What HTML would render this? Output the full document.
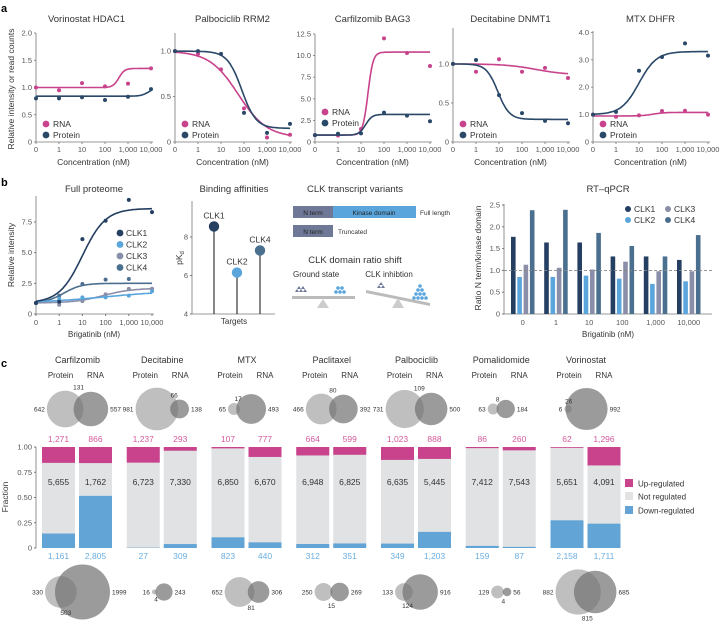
<!DOCTYPE html>
<html><head><meta charset="utf-8"><style>
html,body{margin:0;padding:0;background:#fff}
svg{display:block;font-family:"Liberation Sans",sans-serif}
</style></head><body>
<svg id="fig" width="722" height="625" viewBox="0 0 722 625"></svg>
<script>
// ---------- DATA ----------
const doseLabels = ["0","1","10","100","1,000","10,000"];
const aTitles = ["Vorinostat HDAC1","Palbociclib RRM2","Carfilzomib BAG3","Decitabine DNMT1","MTX DHFR"];
const aRna = [[1.0,0.95,1.08,1.02,1.07,1.35],[1.0,0.97,0.8,0.37,0.05,0.08],[0.8,0.75,1.5,12.0,10.3,8.8],[1.0,0.9,1.06,0.9,0.95,0.82],[1.0,0.92,0.97,1.13,1.14,1.0]];
const aProt = [[0.8,0.8,0.82,0.77,0.83,0.97],[1.0,1.0,0.97,0.32,0.1,0.2],[0.8,0.95,1.0,3.4,3.05,2.4],[1.0,1.05,0.6,0.37,0.27,0.24],[1.0,1.1,2.6,3.1,3.6,3.15]];
const aRnaFit = [[1.0,1.35,3.6,8],[1.0,0.05,2.75,1.6],[0.8,10.4,2.3,9],[1.0,0.86,3.6,1.5],[0.95,1.08,2.6,4]];
const aProtFit = [[0.84,1.0,4.9,6],[1.0,0.15,2.9,3.2],[0.8,3.2,2.2,7],[1.0,0.29,1.95,4],[1.0,3.3,2.0,2.6]];
const aYTicks = [[0,0.5,1.0,1.5,2.0],[0,0.5,1.0],[0,2.5,5.0,7.5,10.0,12.5],[0,0.5,1.0],[0,1.0,2.0,3.0,4.0]];
const aYTickLabels = [["0","0.5","1.0","1.5","2.0"],["0","0.5","1.0"],["0","2.5","5.0","7.5","10.0","12.5"],["0","0.5","1.0"],["0","1.0","2.0","3.0","4.0"]];
const aYMax = [2.0,1.2,12.5,1.46,4.05];
const clkNames = ["CLK1","CLK2","CLK3","CLK4"];
const fpPoints = [[0.9,1.0,6.1,7.6,9.3,8.3],[0.9,1.25,1.35,1.35,1.5,1.85],[0.9,0.75,1.05,1.6,2.05,2.05],[0.9,1.5,2.45,2.8,2.85,2.05]];
const fpFit = [[0.9,8.6,2.0,2.0],[0.9,1.9,3.0,0.7],[0.9,2.1,2.9,1.6],[0.9,2.5,1.2,2.6]];
const fpYTicks = [0,2.5,5.0,7.5];
const fpYTickLabels = ["0","2.5","5.0","7.5"];
const pkdTargets = ["CLK1","CLK2","CLK4"];
const pkdValues = [8.55,6.15,7.3];
const qpcr = [[1.77,1.64,1.64,1.32,1.32,1.24],[0.85,0.85,0.88,0.81,0.69,0.75],[1.13,1.06,1.02,1.2,0.98,0.98],[2.38,2.39,1.86,1.56,1.32,1.81]];
const qYTicks = [0,0.5,1.0,1.5,2.0,2.5];
const qYTickLabels = ["0","0.5","1.0","1.5","2.0","2.5"];
const drugs = ["Carfilzomib","Decitabine","MTX","Paclitaxel","Palbociclib","Pomalidomide","Vorinostat"];
const upCounts = [[1271,866],[1237,293],[107,777],[664,599],[1023,888],[86,260],[62,1296]];
const notCounts = [[5655,1762],[6723,7330],[6850,6670],[6948,6825],[6635,5445],[7412,7543],[5651,4091]];
const downCounts = [[1161,2805],[27,309],[823,440],[312,351],[349,1203],[159,87],[2158,1711]];
const vennUp = [[642,131,557],[981,66,138],[65,17,493],[466,80,392],[731,109,500],[63,8,184],[6,26,992]];
const vennDown = [[330,503,1999],[16,4,243],[652,81,306],[250,15,269],[133,124,916],[129,4,56],[882,815,685]];
const fracTicks = [0,0.25,0.5,0.75,1.0];
const fracTickLabels = ["0","0.25","0.50","0.75","1.00"];

// ---------- HELPERS ----------
const NS="http://www.w3.org/2000/svg";
const svg=document.getElementById('fig');
function el(tag,attrs,parent,txt){const e=document.createElementNS(NS,tag);for(const k in attrs)e.setAttribute(k,attrs[k]);if(txt!==undefined)e.textContent=txt;(parent||svg).appendChild(e);return e;}
function fmt(n){return n.toLocaleString('en-US');}
const PINK="#c8428c",NAVY="#2a4868",AX="#777",TX="#333";
const clkCol=["#243f61","#5aa5dc","#8a8ea8","#4a6f8f"];
function sig(f,i){return f[0]+(f[1]-f[0])/(1+Math.exp(-f[3]*(i-f[2])));}
function txt(x,y,s,size,anchor,fill,parent){return el('text',{x:x,y:y,'font-size':size,'text-anchor':anchor||'middle',fill:fill||TX},parent,s);}

let t;
t=txt(1,12,"a",11,'start','#000');t.setAttribute('font-weight','bold');
t=txt(1,186,"b",11,'start','#000');t.setAttribute('font-weight','bold');
t=txt(1,367,"c",11,'start','#000');t.setAttribute('font-weight','bold');

// ---------- PANEL A ----------
const aX0=[36,175,315,453,593];
const aY0=142;
for(let p=0;p<5;p++){
  const g=el('g',{});
  
  
  const x0=aX0[p], w=115, step=w/5;
  const yTopPix = [33,33,34,28,31][p];
  const sx=i=>x0+i*step;
  const sy=v=>aY0-(v/aYMax[p])*(aY0-yTopPix);
  el('line',{x1:x0,y1:aY0,x2:x0+w+2,y2:aY0,stroke:AX,'stroke-width':0.8},g);
  el('line',{x1:x0,y1:aY0,x2:x0,y2:yTopPix,stroke:AX,'stroke-width':0.8},g);
  aYTicks[p].forEach((v,k)=>{const y=sy(v);el('line',{x1:x0-2,y1:y,x2:x0,y2:y,stroke:AX,'stroke-width':0.8},g);txt(x0-4,y+2.5,aYTickLabels[p][k],7.5,'end','#555',g);});
  doseLabels.forEach((l,i)=>{el('line',{x1:sx(i),y1:aY0,x2:sx(i),y2:aY0+2,stroke:AX,'stroke-width':0.8},g);txt(sx(i),aY0+10,l,7.5,'middle','#555',g);});
  txt(x0+w/2,165,"Concentration (nM)",8.5,'middle',TX,g);
  const tt=txt(x0+w/2-(p===0?7:0),22,aTitles[p],9.5,'middle',TX,g);
  
  [[aRnaFit[p],aRna[p],PINK,'rna'],[aProtFit[p],aProt[p],NAVY,'protein']].forEach(([f,pts,c,n])=>{
    let d='';for(let k=0;k<=100;k++){const i=k*0.05;d+=(k?'L':'M')+sx(i).toFixed(1)+','+sy(sig(f,i)).toFixed(1);}
    const path=el('path',{d:d,fill:'none',stroke:c,'stroke-width':1.6},g);
    
    
    pts.forEach((v,i)=>{const cc=el('circle',{cx:sx(i),cy:sy(v),r:2,fill:c},g);
      
      });
  });
  const ly = p===2?112:124, lx=x0+10;
  el('circle',{cx:lx,cy:ly,r:3.4,fill:PINK},g);txt(lx+7,ly+3,"RNA",8.5,'start',TX,g);
  el('circle',{cx:lx,cy:ly+11,r:3.4,fill:NAVY},g);txt(lx+7,ly+14,"Protein",8.5,'start',TX,g);
}
t=el('text',{x:0,y:0,'font-size':8.5,'text-anchor':'middle',fill:TX,transform:'translate(14,89) rotate(-90)'},svg,"Relative intensity or read counts");


// ---------- PANEL B ----------
{
  const g=el('g',{});
  const x0=36,w=116,y0=314,step=w/5;const sx=i=>x0+i*step;const sy=v=>y0-v*12.27;
  el('line',{x1:x0,y1:y0,x2:x0+w+2,y2:y0,stroke:AX,'stroke-width':0.8},g);
  el('line',{x1:x0,y1:y0,x2:x0,y2:196,stroke:AX,'stroke-width':0.8},g);
  fpYTicks.forEach((v,k)=>{el('line',{x1:x0-2,y1:sy(v),x2:x0,y2:sy(v),stroke:AX},g);txt(x0-4,sy(v)+2.5,fpYTickLabels[k],7.5,'end','#555',g);});
  doseLabels.forEach((l,i)=>{el('line',{x1:sx(i),y1:y0,x2:sx(i),y2:y0+2,stroke:AX},g);txt(sx(i),y0+11,l,7.5,'middle','#555',g);});
  txt(x0+w/2,337,"Brigatinib (nM)",8,'middle',TX,g);
  txt(x0+w/2,192,"Full proteome",9.5,'middle',TX,g);
  el('text',{'font-size':8.5,'text-anchor':'middle',fill:TX,transform:'translate(14,255) rotate(-90)'},g,"Relative intensity");
  [3,2,1,0].forEach(s=>{
    let d='';for(let k=0;k<=100;k++){const i=k*0.05;d+=(k?'L':'M')+sx(i).toFixed(1)+','+sy(sig(fpFit[s],i)).toFixed(1);}
    const p=el('path',{d:d,fill:'none',stroke:clkCol[s],'stroke-width':1.6},g);
    
    
    fpPoints[s].forEach((v,i)=>{const c=el('circle',{cx:sx(i),cy:sy(v),r:2,fill:clkCol[s]},g);
      
      });
  });
  clkNames.forEach((n,s)=>{const ly=233+s*11.5;const c=el('circle',{cx:120,cy:ly,r:3.4,fill:clkCol[s]},g);
    
    
    txt(126,ly+3,n,8.5,'start',TX,g);});
}
{
  const g=el('g',{});
  const x0=192,y0=314;const sy=v=>y0-(v-4)*19.25;const xs=[214,237,260];
  el('line',{x1:x0,y1:y0,x2:275,y2:y0,stroke:AX,'stroke-width':0.8},g);
  el('line',{x1:x0,y1:y0,x2:x0,y2:201,stroke:AX,'stroke-width':0.8},g);
  [4,6,8].forEach(v=>{el('line',{x1:x0-2,y1:sy(v),x2:x0,y2:sy(v),stroke:AX},g);txt(x0-4,sy(v)+2.5,String(v),7.5,'end','#555',g);});
  txt(234,192,"Binding affinities",9.5,'middle',TX,g);
  txt(234,324,"Targets",8,'middle',TX,g);
  const yl=el('text',{'font-size':8.5,'text-anchor':'middle',fill:TX,transform:'translate(182,258) rotate(-90)'},g);
  yl.textContent="pK";el('tspan',{'font-size':6,dy:2},yl,"d");
  const cols=[clkCol[0],clkCol[1],clkCol[3]];
  pkdValues.forEach((v,i)=>{
    const ln=el('line',{x1:xs[i],y1:y0,x2:xs[i],y2:sy(v),stroke:'#222','stroke-width':1.1},g);
    
    const c=el('circle',{cx:xs[i],cy:sy(v),r:5.2,fill:cols[i]},g);
    
    txt(xs[i],sy(v)-8,pkdTargets[i],8.5,'middle',TX,g);
  });
}
{
  const g=el('g',{});
  txt(355,192,"CLK transcript variants",9.5,'middle',TX,g);
  el('rect',{x:293,y:206,width:40,height:12,fill:'#6f7896'},g);txt(313,215,"N term",6.5,'middle','#222',g);
  el('rect',{x:333,y:206,width:83,height:12,fill:'#5aa5dc'},g);txt(374,215,"Kinase domain",6.5,'middle','#222',g);
  txt(420,215,"Full length",6.5,'start',TX,g);
  el('rect',{x:293,y:225,width:40,height:12,fill:'#6f7896'},g);txt(313,234,"N term",6.5,'middle','#222',g);
  txt(338,234,"Truncated",6.5,'start',TX,g);
  txt(355,263,"CLK domain ratio shift",9.5,'middle',TX,g);
  txt(293,277,"Ground state",8,'start',TX,g);
  txt(389,277,"CLK inhibtion",8,'middle',TX,g);
  el('rect',{x:292,y:296,width:63,height:3,fill:'#bbb'},g);
  el('polygon',{points:'323,299 317,308 329,308',fill:'#ccc'},g);
  [[297,292],[301,292],[305,292],[299,289],[303,289]].forEach(p=>el('polygon',{points:`${p[0]},${p[1]-3} ${p[0]-2},${p[1]} ${p[0]+2},${p[1]}`,fill:'#6f7896'},g));
  [[336,292],[340,292],[344,292],[338,288],[342,288]].forEach(p=>el('circle',{cx:p[0],cy:p[1],r:1.8,fill:'#5aa5dc'},g));
  el('polygon',{points:'366,290 430,303 430,306 366,293',fill:'#bbb'},g);
  el('polygon',{points:'398,298 392,308 404,308',fill:'#ccc'},g);
  [[379,288],[383,288],[381,285]].forEach(p=>el('polygon',{points:`${p[0]},${p[1]-3} ${p[0]-2},${p[1]} ${p[0]+2},${p[1]}`,fill:'#6f7896'},g));
  [[414,298],[418,298],[422,298],[426,298],[416,294],[420,294],[424,294],[418,290],[422,290],[420,286]].forEach(p=>el('circle',{cx:p[0],cy:p[1],r:1.8,fill:'#5aa5dc'},g));
}
{
  const g=el('g',{});
  const x0=504,x1=712,y0=314;const sy=v=>y0-v*43.6;
  el('line',{x1:x0,y1:y0,x2:x1,y2:y0,stroke:AX,'stroke-width':0.8},g);
  el('line',{x1:x0,y1:y0,x2:x0,y2:204,stroke:AX,'stroke-width':0.8},g);
  qYTicks.forEach((v,k)=>{el('line',{x1:x0-2,y1:sy(v),x2:x0,y2:sy(v),stroke:AX},g);txt(x0-4,sy(v)+2.5,qYTickLabels[k],7.5,'end','#555',g);});
  txt(608,192,"RT–qPCR",9.5,'middle',TX,g);
  el('text',{'font-size':8.5,'text-anchor':'middle',fill:TX,transform:'translate(481,258) rotate(-90)'},g,"Ratio N term/kinase domain");
  const gw=33.2, off=[0,6.3,12.6,18.9];
  for(let c=0;c<6;c++){
    const gx=511+c*gw;
    qpcr.forEach((ser,s)=>{const v=ser[c];const r=el('rect',{x:gx+off[s],y:sy(v),width:4.6,height:y0-sy(v),fill:clkCol[s]},g);
      
      });
    txt(gx+11.7,y0+11,doseLabels[c],7.5,'middle','#555',g);
  }
  el('line',{x1:x0,y1:sy(1),x2:x1,y2:sy(1),stroke:'#888','stroke-width':0.9,'stroke-dasharray':'3,2'},g);
  txt(608,337,"Brigatinib (nM)",8,'middle',TX,g);
  [[0,628,209],[1,628,220],[2,668,209],[3,668,220]].forEach(([s,x,y])=>{el('circle',{cx:x,cy:y,r:3,fill:clkCol[s]},g);txt(x+6,y+3,clkNames[s],8.5,'start',TX,g);});
}

// ---------- PANEL C ----------
{
  const g=el('g',{});
  const yTop=447,yBot=548,x0=36;const sy=v=>yBot-v*(yBot-yTop);
  el('line',{x1:x0,y1:yBot,x2:x0,y2:yTop,stroke:AX,'stroke-width':0.8},g);
  fracTicks.forEach((v,k)=>{el('line',{x1:x0-2,y1:sy(v),x2:x0,y2:sy(v),stroke:AX},g);txt(x0-4,sy(v)+2.5,fracTickLabels[k],7.5,'end','#555',g);});
  el('text',{'font-size':8.5,'text-anchor':'middle',fill:TX,transform:'translate(8,497) rotate(-90)'},g,"Fraction");
  const spacing=84.75;
  drugs.forEach((d,i)=>{
    const cx=77.5+i*spacing;
    txt(cx,363,d,9,'middle',TX,g);
    txt(cx-17,378,"Protein",8,'middle',TX,g);txt(cx+18,378,"RNA",8,'middle',TX,g);
    for(let j=0;j<2;j++){
      const bx=cx-35.5+j*37, bw=33;
      const u=upCounts[i][j],n=notCounts[i][j],dn=downCounts[i][j],tot=u+n+dn;
      const fd=dn/tot,fu=u/tot;
      const kind=j?'rna':'protein';
      let r=el('rect',{x:bx,y:sy(1),width:bw,height:sy(0)-sy(1),fill:'#e1e2e4'},g);
      
      r=el('rect',{x:bx,y:sy(1),width:bw,height:sy(1-fu)-sy(1),fill:'#c8428c'},g);
      
      r=el('rect',{x:bx,y:sy(fd),width:bw,height:sy(0)-sy(fd),fill:'#62a4d6'},g);
      
      txt(bx+bw/2,442,fmt(u),8.5,'middle','#d45a9c',g);
      txt(bx+bw/2,485,fmt(n),8.5,'middle','#333',g);
      txt(bx+bw/2,559,fmt(dn),8.5,'middle','#6aaee0',g);
    }
    [[vennUp[i],409,0.66,'up'],[vennDown[i],592,0.55,'down']].forEach(([v,cy,k,nm])=>{
      const r1=Math.sqrt(v[0]+v[1])*k, r2=Math.sqrt(v[1]+v[2])*k;
      const ov=v[1]/Math.min(v[0]+v[1],v[1]+v[2]);
      const dist=r1+r2-2*Math.min(r1,r2)*Math.pow(ov,0.75);
      const c1=0, c2=dist;
      const shift=cx-((c1-r1)+(c2+r2))/2;
      let a=el('circle',{cx:c1+shift,cy:cy,r:r1,fill:'#b4b4b4','fill-opacity':0.85},g);
      
      a=el('circle',{cx:c2+shift,cy:cy,r:r2,fill:'#707070','fill-opacity':0.7},g);
      
      txt(c1+shift-r1-2,cy+2.5,String(v[0]),6.5,'end','#333',g);
      txt(c2+shift+r2+2,cy+2.5,String(v[2]),6.5,'start','#333',g);
      const ox=(c1+shift+r1+c2+shift-r2)/2;
      if(nm==='up') txt(ox,cy-Math.min(r1,r2)-2,String(v[1]),6.5,'middle','#333',g);
      else txt(ox,cy+Math.min(r1,r2)+7,String(v[1]),6.5,'middle','#333',g);
    });
  });
  [["#c8428c","Up-regulated",484],["#e1e2e4","Not regulated",497],["#62a4d6","Down-regulated",511]].forEach(([c,l,y])=>{
    const r=el('rect',{x:625,y:y-5,width:8,height:8,fill:c},g);
    
    txt(638,y+2.5,l,8,'start',TX,g);});
}
</script>
</body></html>
